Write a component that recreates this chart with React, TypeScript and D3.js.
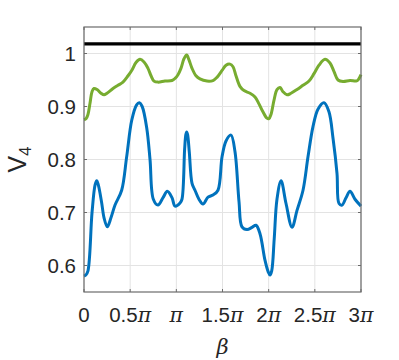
import * as React from "react";
import * as d3 from "d3";

// beta in units of pi
const xTicks = [0, 0.5, 1, 1.5, 2, 2.5, 3];
const xTickLabels = ["0", "0.5", "", "1.5", "2", "2.5", "3"];
const yTicks = [0.6, 0.7, 0.8, 0.9, 1];
const yTickLabels = ["0.6", "0.7", "0.8", "0.9", "1"];

const refLevel = 1.018;

const blueX = [0, 0.02, 0.043, 0.087, 0.12, 0.138, 0.155, 0.19, 0.217, 0.252, 0.292, 0.336, 0.408, 0.462, 0.517, 0.57, 0.599, 0.63, 0.679, 0.715, 0.751, 0.801, 0.856, 0.902, 0.953, 0.986, 1.04, 1.061, 1.09, 1.103, 1.112, 1.122, 1.14, 1.17, 1.202, 1.245, 1.289, 1.343, 1.397, 1.451, 1.495, 1.538, 1.592, 1.635, 1.679, 1.711, 1.765, 1.82, 1.863, 1.906, 1.96, 1.995, 2.014, 2.033, 2.06, 2.09, 2.134, 2.188, 2.253, 2.307, 2.372, 2.426, 2.48, 2.534, 2.599, 2.653, 2.697, 2.74, 2.762, 2.795, 2.838, 2.881, 2.935, 3];
const blueY = [0.58, 0.582, 0.59, 0.7, 0.752, 0.76, 0.752, 0.72, 0.69, 0.673, 0.69, 0.714, 0.742, 0.805, 0.874, 0.903, 0.907, 0.9, 0.86, 0.8, 0.725, 0.714, 0.728, 0.74, 0.728, 0.712, 0.718, 0.725, 0.82, 0.847, 0.852, 0.847, 0.815, 0.755, 0.742, 0.725, 0.716, 0.729, 0.733, 0.742, 0.805, 0.835, 0.846, 0.815, 0.72, 0.673, 0.668, 0.672, 0.676, 0.66, 0.61, 0.588, 0.582, 0.59, 0.65, 0.725, 0.76, 0.717, 0.672, 0.704, 0.742, 0.805, 0.862, 0.895, 0.907, 0.89, 0.84, 0.774, 0.717, 0.714, 0.728, 0.74, 0.725, 0.712];

const greenX = [0, 0.022, 0.043, 0.065, 0.087, 0.108, 0.141, 0.184, 0.217, 0.249, 0.314, 0.368, 0.422, 0.477, 0.52, 0.563, 0.607, 0.65, 0.693, 0.726, 0.758, 0.801, 0.877, 0.953, 0.986, 1.018, 1.05, 1.083, 1.112, 1.137, 1.17, 1.213, 1.256, 1.332, 1.397, 1.44, 1.495, 1.538, 1.581, 1.614, 1.646, 1.689, 1.733, 1.798, 1.852, 1.895, 1.938, 1.981, 2.003, 2.025, 2.058, 2.09, 2.123, 2.155, 2.199, 2.242, 2.307, 2.372, 2.437, 2.491, 2.545, 2.61, 2.664, 2.708, 2.751, 2.805, 2.881, 2.946, 2.968, 3];
const greenY = [0.875, 0.877, 0.885, 0.906, 0.928, 0.934, 0.932, 0.925, 0.922, 0.925, 0.934, 0.94, 0.946, 0.958, 0.969, 0.983, 0.989, 0.984, 0.972, 0.958, 0.948, 0.946, 0.948, 0.949, 0.953, 0.96, 0.972, 0.99, 0.997, 0.988, 0.972, 0.958, 0.952, 0.948, 0.949, 0.955, 0.968, 0.978, 0.98, 0.975, 0.958, 0.938, 0.93, 0.925, 0.918, 0.905, 0.89, 0.878, 0.877, 0.885, 0.912, 0.932, 0.936, 0.928, 0.922, 0.925, 0.932, 0.94, 0.948, 0.962, 0.978, 0.989, 0.982, 0.966, 0.95, 0.947, 0.949, 0.948, 0.95, 0.96];

export default function App() {
  const width = 399;
  const height = 360;
  const margin = { left: 84, right: 38, top: 27, bottom: 68 };
  const innerW = width - margin.left - margin.right;
  const innerH = height - margin.top - margin.bottom;

  const x = d3.scaleLinear().domain([0, 3]).range([0, innerW]);
  const y = d3.scaleLinear().domain([0.55, 1.05]).range([innerH, 0]);

  const line = d3
    .line<[number, number]>()
    .x((d) => x(d[0]))
    .y((d) => y(d[1]))
    .curve(d3.curveCatmullRom.alpha(0.5));

  const blue = blueX.map((v, i) => [v, blueY[i]] as [number, number]);
  const green = greenX.map((v, i) => [v, greenY[i]] as [number, number]);
  const black: [number, number][] = [[0, refLevel], [3, refLevel]];

  const font = "'Liberation Sans', Arial, sans-serif";
  const textColor = "#262626";
  const axisColor = "#6b6b6b";
  const tickLen = 3;

  return (
    <svg
      width={width}
      height={height}
      style={{ position: "absolute", left: 0, top: 0, background: "#fff" }}
    >
      <g transform={`translate(${margin.left},${margin.top})`}>
        {/* grid */}
        {xTicks.map((t) => (
          <line key={"gx" + t} x1={x(t)} x2={x(t)} y1={0} y2={innerH} stroke="#e3e3e3" strokeWidth={1} />
        ))}
        {yTicks.map((t) => (
          <line key={"gy" + t} x1={0} x2={innerW} y1={y(t)} y2={y(t)} stroke="#e3e3e3" strokeWidth={1} />
        ))}

        {/* curves */}
        <path d={line(black) || ""} fill="none" stroke="#000" strokeWidth={3.2} />
        <path d={line(green) || ""} fill="none" stroke="#77AC30" strokeWidth={3} strokeLinejoin="round" />
        <path d={line(blue) || ""} fill="none" stroke="#0072BD" strokeWidth={3} strokeLinejoin="round" />

        {/* box */}
        <rect x={0} y={0} width={innerW} height={innerH} fill="none" stroke={axisColor} strokeWidth={1.2} />

        {/* ticks */}
        {xTicks.map((t) => (
          <g key={"tx" + t}>
            <line x1={x(t)} x2={x(t)} y1={innerH} y2={innerH - tickLen} stroke={axisColor} />
            <line x1={x(t)} x2={x(t)} y1={0} y2={tickLen} stroke={axisColor} />
          </g>
        ))}
        {yTicks.map((t) => (
          <g key={"ty" + t}>
            <line x1={0} x2={tickLen} y1={y(t)} y2={y(t)} stroke={axisColor} />
            <line x1={innerW} x2={innerW - tickLen} y1={y(t)} y2={y(t)} stroke={axisColor} />
          </g>
        ))}

        {/* tick labels */}
        {yTicks.map((t, i) => (
          <text
            key={"ly" + t}
            x={-8}
            y={y(t)}
            dy="0.35em"
            textAnchor="end"
            fontFamily={font}
            fontSize={20.5}
            fill={textColor}
          >
            {yTickLabels[i]}
          </text>
        ))}
        {xTicks.map((t, i) => (
          <text
            key={"lx" + t}
            x={x(t)}
            y={innerH + 30}
            textAnchor="middle"
            fontFamily={font}
            fontSize={20.5}
            fill={textColor}
          >
            {xTickLabels[i]}
            {t !== 0 && (
              <tspan fontFamily="'DejaVu Serif', serif" fontStyle="italic">
                π
              </tspan>
            )}
          </text>
        ))}

        {/* axis labels */}
        <text
          x={innerW / 2}
          y={innerH + 62}
          textAnchor="middle"
          fontFamily="'DejaVu Serif', serif"
          fontStyle="italic"
          fontSize={21}
          fill={textColor}
        >
          β
        </text>
        <text
          transform={`translate(${-58},${innerH / 2}) rotate(-90)`}
          textAnchor="middle"
          fontFamily={font}
          fontSize={25}
          fill={textColor}
        >
          V
          <tspan fontSize={17} dy={5}>
            4
          </tspan>
        </text>
      </g>
    </svg>
  );
}
